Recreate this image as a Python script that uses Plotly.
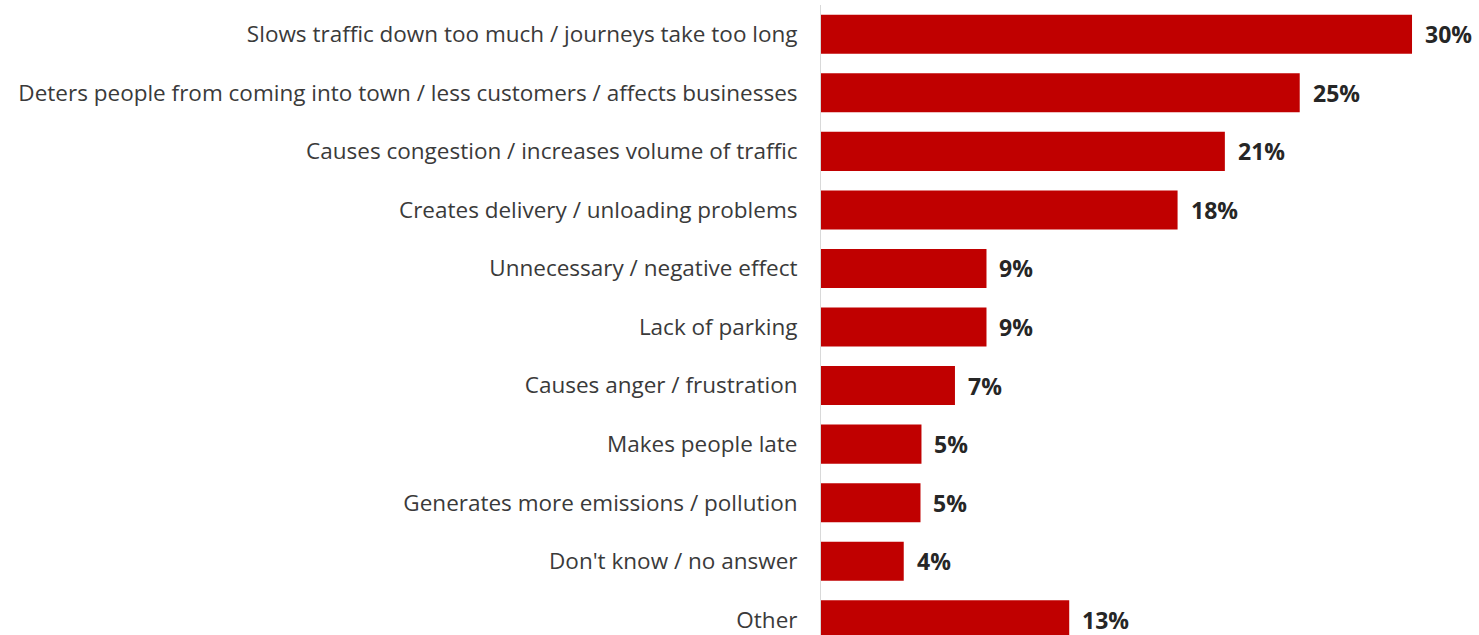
import plotly.graph_objects as go

categories = [
    "Slows traffic down too much / journeys take too long",
    "Deters people from coming into town / less customers / affects businesses",
    "Causes congestion / increases volume of traffic",
    "Creates delivery / unloading problems",
    "Unnecessary / negative effect",
    "Lack of parking",
    "Causes anger / frustration",
    "Makes people late",
    "Generates more emissions / pollution",
    "Don't know / no answer",
    "Other",
]
values = [30.0, 24.3, 20.5, 18.1, 8.4, 8.4, 6.8, 5.1, 5.05, 4.2, 12.6]
value_labels = ["30%", "25%", "21%", "18%", "9%", "9%", "7%", "5%", "5%", "4%", "13%"]

FONT = "Open Sans"

fig = go.Figure()
fig.add_trace(go.Bar(
    x=values, y=categories, orientation="h",
    marker=dict(color="#C00000", line=dict(width=0)),
    hoverinfo="skip",
))

for cat, v, lab in zip(categories, values, value_labels):
    fig.add_annotation(
        x=v, y=cat, text="<b>" + lab + "</b>", showarrow=False,
        xanchor="left", yanchor="middle", xshift=11,
        font=dict(family=FONT, size=23, color="#262626"),
    )

fig.update_layout(
    width=1479, height=635,
    margin=dict(l=821, r=0, t=5, b=0, autoexpand=False),
    paper_bgcolor="white", plot_bgcolor="white",
    showlegend=False,
    bargap=0.333,
    font=dict(family=FONT, size=22.5, color="#3a3a3a"),
)
fig.update_xaxes(range=[0, 33.4], visible=False, showgrid=False, zeroline=False)
fig.update_yaxes(
    range=[10.26, -0.5], showgrid=False, zeroline=False,
    showline=True, linecolor="#D9D9D9", linewidth=1,
    ticks="", ticklabelstandoff=18,
    tickfont=dict(family=FONT, size=22.5, color="#3a3a3a"),
)

fig.write_html("out.html", config={"displayModeBar": False},
               post_script="document.body.style.margin='0px';")
